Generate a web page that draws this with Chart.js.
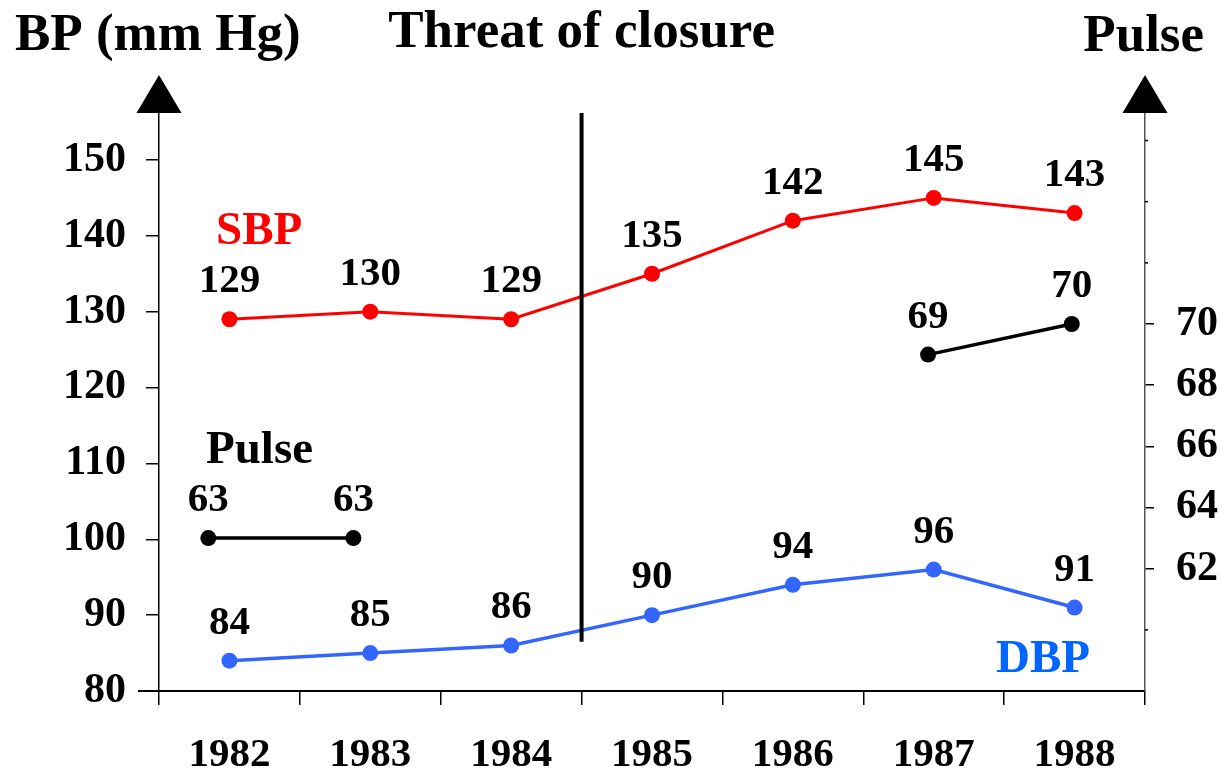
<!DOCTYPE html>
<html>
<head>
<meta charset="utf-8">
<script src="https://cdn.jsdelivr.net/npm/chart.js@4.4.0/dist/chart.umd.min.js"></script>
<style>
  html, body { margin: 0; padding: 0; background: #ffffff; }
  #wrap { width: 1223px; height: 776px; position: relative; }
</style>
</head>
<body>
<div id="wrap"><canvas id="c" width="1223" height="776"></canvas></div>
<script>
// ---- data ----
const years = ['1982', '1983', '1984', '1985', '1986', '1987', '1988'];
const sbpValues = [129, 130, 129, 135, 142, 145, 143];
const dbpValues = [84, 85, 86, 90, 94, 96, 91];
const pulseEarlyX = [1981.85, 1982.88];
const pulseEarlyValues = [63, 63];
const pulseLateX = [1986.96, 1987.98];
const pulseLateValues = [69, 70];
const bpTicks = [80, 90, 100, 110, 120, 130, 140, 150];
const pulseTicks = [58, 60, 62, 64, 66, 68, 70, 72, 74, 76];
const pulseTickLabels = [62, 64, 66, 68, 70];
const threatAfterYear = '1984';

// ---- styling ----
const FONT = '"Liberation Serif", "Times New Roman", serif';
const RED = '#ff0000';
const BLUE = '#3366ff';
const BLUE_TEXT = '#0066ff';

const pulseData = [];
pulseEarlyX.forEach((x, i) => pulseData.push({ x: x, y: pulseEarlyValues[i] }));
pulseData.push({ x: (pulseEarlyX[1] + pulseLateX[0]) / 2, y: null });
pulseLateX.forEach((x, i) => pulseData.push({ x: x, y: pulseLateValues[i] }));

const decorPlugin = {
  id: 'decor',
  afterDraw(chart) {
    const ctx = chart.ctx;
    const ca = chart.chartArea;
    const sx = chart.scales.x;
    const sy = chart.scales.y;
    const sy2 = chart.scales.y2;
    ctx.save();

    // threat of closure line
    const idx = years.indexOf(threatAfterYear);
    const tx = (sx.getPixelForValue(idx) + sx.getPixelForValue(idx + 1)) / 2;
    ctx.strokeStyle = '#000';
    ctx.lineWidth = 4;
    ctx.beginPath();
    ctx.moveTo(tx, ca.top);
    ctx.lineTo(tx, sy.getPixelForValue(86.5));
    ctx.stroke();

    // arrows on axes
    ctx.fillStyle = '#000';
    [ca.left, ca.right].forEach(ax => {
      ctx.beginPath();
      ctx.moveTo(ax, ca.top - 38);
      ctx.lineTo(ax - 22.5, ca.top);
      ctx.lineTo(ax + 22.5, ca.top);
      ctx.closePath();
      ctx.fill();
    });

    // short unlabeled ticks on the right axis
    ctx.lineWidth = 1.5;
    ctx.strokeStyle = '#000';
    pulseTicks.forEach(v => {
      if (pulseTickLabels.includes(v) || v === pulseTicks[0]) return;
      const y = sy2.getPixelForValue(v);
      ctx.beginPath();
      ctx.moveTo(ca.right, y);
      ctx.lineTo(ca.right + 3, y);
      ctx.stroke();
    });
    // extension of the x axis line to the left
    ctx.lineWidth = 2;
    ctx.beginPath();
    ctx.moveTo(ca.left - 21, ca.bottom);
    ctx.lineTo(ca.left, ca.bottom);
    ctx.stroke();

    // titles
    ctx.textBaseline = 'alphabetic';
    ctx.fillStyle = '#000';
    ctx.font = 'bold 53px ' + FONT;
    ctx.textAlign = 'left';
    ctx.fillText('BP (mm Hg)', 15, 50);
    ctx.textAlign = 'center';
    ctx.fillText('Threat of closure', tx, 47);
    ctx.textAlign = 'right';
    ctx.fillText('Pulse', 1204, 51);

    // series names
    ctx.font = 'bold 47px ' + FONT;
    ctx.textAlign = 'left';
    ctx.fillStyle = RED;
    ctx.fillText('SBP', 216, 244);
    ctx.fillStyle = '#000';
    ctx.fillText('Pulse', 206, 463);
    ctx.fillStyle = BLUE_TEXT;
    ctx.fillText('DBP', 996, 672);

    // data labels
    ctx.fillStyle = '#000';
    ctx.font = 'bold 41px ' + FONT;
    ctx.textAlign = 'center';
    chart.data.datasets.forEach((ds, di) => {
      const meta = chart.getDatasetMeta(di);
      meta.data.forEach((pt, i) => {
        const raw = ds.data[i];
        const v = (raw !== null && typeof raw === 'object') ? raw.y : raw;
        if (v === null || v === undefined) return;
        ctx.fillText(String(v), pt.x, pt.y - 27);
      });
    });
    ctx.restore();
  }
};

new Chart(document.getElementById('c'), {
  type: 'line',
  data: {
    labels: years,
    datasets: [
      {
        label: 'SBP', data: sbpValues, xAxisID: 'x', yAxisID: 'y',
        borderColor: RED, backgroundColor: RED, borderWidth: 3,
        pointRadius: 8, pointBackgroundColor: RED, pointBorderWidth: 0, tension: 0
      },
      {
        label: 'DBP', data: dbpValues, xAxisID: 'x', yAxisID: 'y',
        borderColor: BLUE, backgroundColor: BLUE, borderWidth: 3.5,
        pointRadius: 8, pointBackgroundColor: BLUE, pointBorderWidth: 0, tension: 0
      },
      {
        label: 'Pulse', data: pulseData, xAxisID: 'xp', yAxisID: 'y2',
        borderColor: '#000', backgroundColor: '#000', borderWidth: 3.5,
        pointRadius: 8, pointBackgroundColor: '#000', pointBorderWidth: 0,
        tension: 0, spanGaps: false
      }
    ]
  },
  options: {
    responsive: false,
    animation: false,
    layout: { padding: { top: 113, left: 0, right: 0, bottom: 0 } },
    plugins: { legend: { display: false }, tooltip: { enabled: false }, title: { display: false } },
    scales: {
      x: {
        type: 'category', position: 'bottom', offset: true,
        grid: { offset: true, drawOnChartArea: false, color: '#000', lineWidth: 1.5, tickLength: 14 },
        border: { display: true, color: '#000', width: 2 },
        ticks: { color: '#000', font: { family: FONT, size: 41, weight: 'bold' }, padding: 26, maxRotation: 0 },
        afterFit: s => { s.height = 85; }
      },
      xp: {
        type: 'linear', display: false, min: 1981.5, max: 1988.5
      },
      y: {
        type: 'linear', position: 'left', min: 80, max: 156.19,
        afterBuildTicks: s => { s.ticks = bpTicks.map(v => ({ value: v })); },
        grid: { drawOnChartArea: false, color: '#000', lineWidth: 1.5, tickLength: 13 },
        border: { display: true, color: '#000', width: 1.5 },
        ticks: { color: '#000', font: { family: FONT, size: 42, weight: 'bold' }, padding: 20 },
        afterFit: s => { s.width = 159; }
      },
      y2: {
        type: 'linear', position: 'right', min: 58, max: 76.9,
        afterBuildTicks: s => { s.ticks = pulseTicks.map(v => ({ value: v })); },
        grid: {
          drawOnChartArea: false, lineWidth: 1.5, tickLength: 9,
          tickColor: c => (c.tick && pulseTickLabels.includes(c.tick.value)) ? '#000' : 'rgba(0,0,0,0)'
        },
        border: { display: true, color: '#555', width: 1.5 },
        ticks: {
          color: '#000', font: { family: FONT, size: 42, weight: 'bold' }, padding: 22,
          callback: v => pulseTickLabels.includes(v) ? String(v) : ''
        },
        afterFit: s => { s.width = 78; }
      }
    }
  },
  plugins: [decorPlugin]
});
</script>
</body>
</html>
